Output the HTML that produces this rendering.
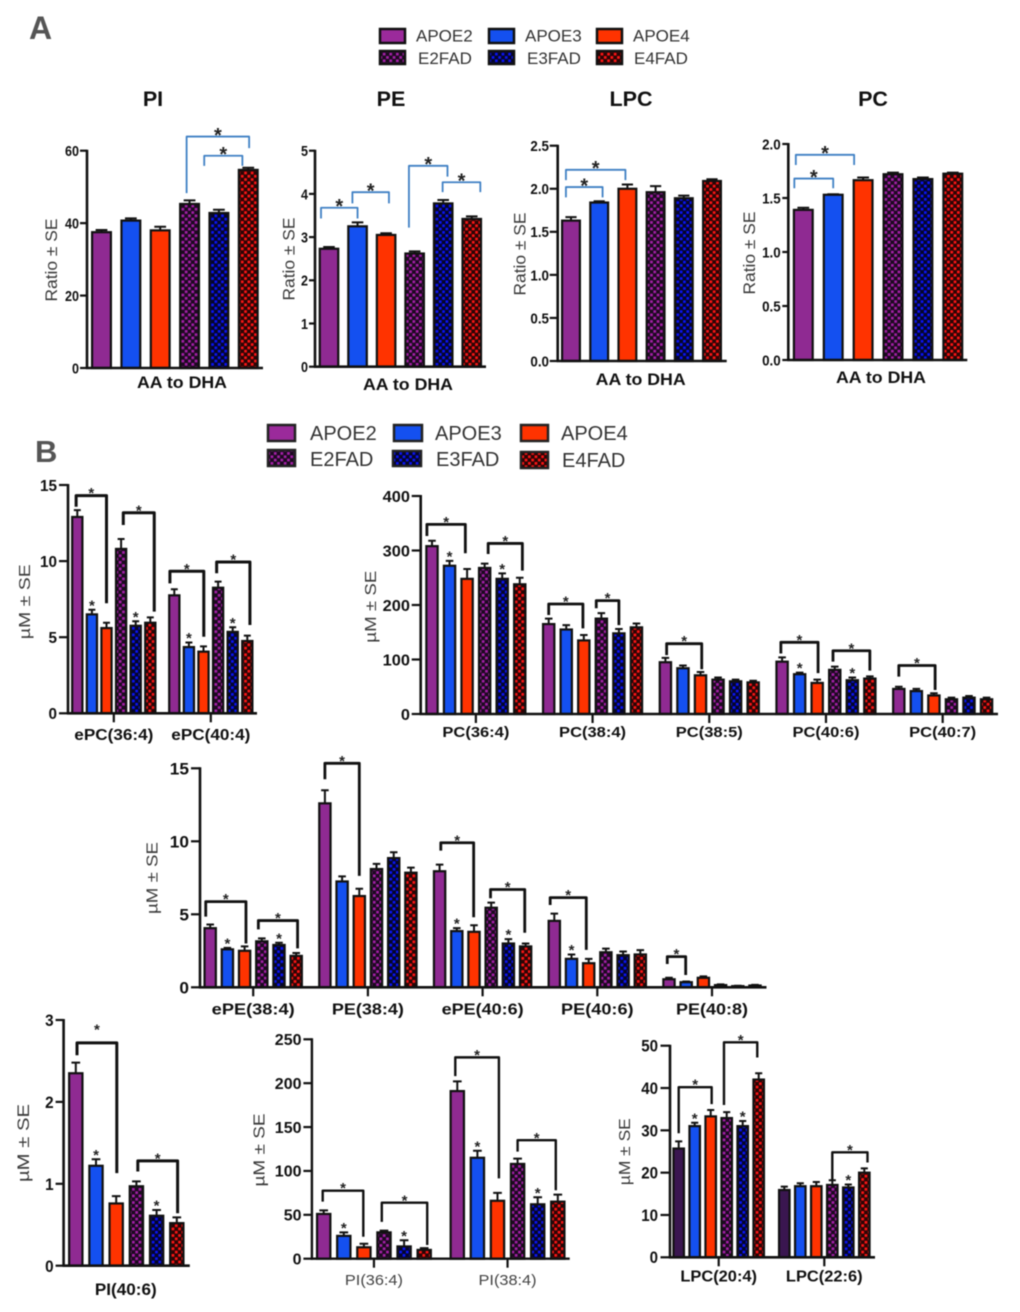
<!DOCTYPE html>
<html lang="en">
<head>
<meta charset="utf-8">
<title>AA to DHA ratios and lipid species by APOE genotype</title>
<style>
html,body{margin:0;padding:0;background:#fff;width:1020px;height:1312px;overflow:hidden}
svg{display:block;filter:blur(.45px)}
text{font-family:"Liberation Sans",sans-serif}
</style>
</head>
<body>
<svg id="figure" xmlns="http://www.w3.org/2000/svg" width="1020" height="1312" viewBox="0 0 1020 1312">
<defs>
<pattern id="chk-e2" patternUnits="userSpaceOnUse" width="6.6" height="6.6"><rect width="6.6" height="6.6" fill="#1c0a20"/><rect width="2.7" height="2.7" fill="#a51fa8"/><rect x="3.3" y="3.3" width="2.7" height="2.7" fill="#a51fa8"/></pattern>
<pattern id="chk-e3" patternUnits="userSpaceOnUse" width="6.6" height="6.6"><rect width="6.6" height="6.6" fill="#05052a"/><rect width="2.7" height="2.7" fill="#0a14f5"/><rect x="3.3" y="3.3" width="2.7" height="2.7" fill="#0a14f5"/></pattern>
<pattern id="chk-e4" patternUnits="userSpaceOnUse" width="6.6" height="6.6"><rect width="6.6" height="6.6" fill="#2a0505"/><rect width="2.7" height="2.7" fill="#ff1515"/><rect x="3.3" y="3.3" width="2.7" height="2.7" fill="#ff1515"/></pattern>
</defs>
<rect width="1020" height="1312" fill="#fff"/>

<text x="29" y="39" font-size="32" font-weight="700" fill="#555">A</text>
<text x="35" y="462" font-size="31" font-weight="700" fill="#555">B</text>

<g font-size="17" fill="#333">
<rect x="380" y="29" width="25" height="14" fill="#9b2a9b" stroke="#111" stroke-width="2.5"/>
<text x="416" y="41.5">APOE2</text>
<rect x="489" y="29" width="25" height="14" fill="#1450f0" stroke="#111" stroke-width="2.5"/>
<text x="525" y="41.5">APOE3</text>
<rect x="597" y="29" width="25" height="14" fill="#ff3300" stroke="#111" stroke-width="2.5"/>
<text x="633" y="41.5">APOE4</text>
<rect x="380" y="51" width="25" height="13" fill="url(#chk-e2)" stroke="#111" stroke-width="2.5"/>
<text x="418" y="64">E2FAD</text>
<rect x="489" y="51" width="25" height="13" fill="url(#chk-e3)" stroke="#111" stroke-width="2.5"/>
<text x="527" y="64">E3FAD</text>
<rect x="597" y="51" width="25" height="13" fill="url(#chk-e4)" stroke="#111" stroke-width="2.5"/>
<text x="634" y="64">E4FAD</text>
</g>

<g font-size="20" fill="#333">
<rect x="268" y="425" width="27" height="16" fill="#9b2a9b" stroke="#222" stroke-width="2.5"/>
<text x="310" y="440">APOE2</text>
<rect x="394" y="425" width="28" height="16" fill="#1450f0" stroke="#222" stroke-width="2.5"/>
<text x="435" y="440">APOE3</text>
<rect x="521" y="425" width="27" height="16" fill="#ff3300" stroke="#222" stroke-width="2.5"/>
<text x="561" y="440">APOE4</text>
<rect x="268" y="450" width="27" height="16" fill="url(#chk-e2)" stroke="#222" stroke-width="2.5"/>
<text x="310" y="466">E2FAD</text>
<rect x="393" y="451" width="28" height="15" fill="url(#chk-e3)" stroke="#222" stroke-width="2.5"/>
<text x="436" y="466">E3FAD</text>
<rect x="521" y="452" width="27" height="16" fill="url(#chk-e4)" stroke="#222" stroke-width="2.5"/>
<text x="562" y="467">E4FAD</text>
</g>

<g font-size="21.5" font-weight="700" fill="#111" text-anchor="middle">
<text x="153" y="106">PI</text>
<text x="391" y="106">PE</text>
<text x="631" y="106">LPC</text>
<text x="873" y="106">PC</text>
</g>
<g id="charts"></g>
</svg>

<script>
// ---- Panel A: AA to DHA ratios (one category, six genotypes) ----
const aaCategories = ['AA to DHA'];
const piRatioValues = [[37.5, 40.7, 38, 45.3, 42.8, 54.7]];
const piRatioErrors = [[0.6, 0.6, 1, 1, 0.9, 0.6]];
const piRatioTicks = [0, 20, 40, 60];
const piRatioBrackets = [[2.9, 5.03, 63.9, 48.3, 60.7], [3.5, 4.8, 58.6, 55.8, 55.8]];
const peRatioValues = [[2.73, 3.25, 3.05, 2.62, 3.78, 3.42]];
const peRatioErrors = [[0.04, 0.09, 0.04, 0.05, 0.08, 0.06]];
const peRatioTicks = [0, 1, 2, 3, 4, 5];
const peRatioBrackets = [[-0.28, 1, 3.68, 3.43, 3.43], [0.82, 2.1, 4.04, 3.78, 3.78], [2.8, 4.15, 4.65, 3.22, 4.4], [3.98, 5.3, 4.27, 4.04, 4.04]];
const lpcRatioValues = [[1.63, 1.84, 2.0, 1.96, 1.89, 2.09]];
const lpcRatioErrors = [[0.04, 0.015, 0.05, 0.07, 0.03, 0.02]];
const lpcRatioTicks = ['0.0', '0.5', '1.0', '1.5', '2.0', '2.5'];
const lpcRatioBrackets = [[-0.18, 1.12, 2.02, 1.90, 1.90], [-0.18, 1.93, 2.22, 2.10, 2.10]];
const pcRatioValues = [[1.39, 1.53, 1.665, 1.72, 1.675, 1.725]];
const pcRatioErrors = [[0.02, 0.005, 0.025, 0.015, 0.015, 0.01]];
const pcRatioTicks = ['0.0', '0.5', '1.0', '1.5', '2.0'];
const pcRatioBrackets = [[-0.3, 1, 1.68, 1.59, 1.59], [-0.25, 1.7, 1.90, 1.805, 1.805]];

// ---- Panel B: lipid species concentrations ----
const ePcCategories = ['ePC(36:4)', 'ePC(40:4)'];
const ePcValues = [[12.9, 6.5, 5.6, 10.8, 5.75, 5.95], [7.75, 4.35, 4.05, 8.25, 5.35, 4.75]];
const ePcErrors = [[0.45, 0.3, 0.35, 0.65, 0.3, 0.35], [0.4, 0.3, 0.35, 0.4, 0.3, 0.35]];
const ePcTicks = [0, 5, 10, 15];
const ePcBrackets = [[-0.08, 2, 14.3, 13.57, 7.23], [3.15, 5.27, 13.18, 12.37, 6.68], [5.7, 8.02, 9.33, 8.54, 5.03], [8.9, 11.18, 9.94, 9.2, 5.8]];
const ePcStars = [1, 4, 7, 10];

const pcCategories = ['PC(36:4)', 'PC(38:4)', 'PC(38:5)', 'PC(40:6)', 'PC(40:7)'];
const pcValues = [[308, 272, 248, 268, 248, 238], [165, 155, 135, 175, 148, 159], [95, 84, 71, 63, 60, 58], [96, 73, 57, 81, 62, 65], [46, 42, 34, 27, 30, 27]];
const pcErrors = [[10, 9, 18, 8, 10, 12], [10, 8, 10, 10, 8, 7], [8, 5, 6, 4, 3, 3], [8, 3, 6, 6, 5, 4], [4, 4, 4, 3, 3, 3]];
const pcTicks = [0, 100, 200, 300, 400];
const pcBrackets = [[-0.29, 1.9, 348, 326.6, 295], [3.2, 5.15, 313, 293.6, 263], [6, 7.95, 201.8, 181.6, 157], [8.71, 10, 208, 194, 163], [12.07, 14.07, 129, 108, 82], [17.93, 20.05, 131.5, 111, 75], [20.9, 23, 116, 96, 79.5], [24, 26.07, 89, 68.5, 44]];
const pcStars = [1, 4, 19, 22];

const pePlasmaCategories = ['ePE(38:4)', 'PE(38:4)', 'ePE(40:6)', 'PE(40:6)', 'PE(40:8)'];
const pePlasmaValues = [[4.05, 2.6, 2.5, 3.15, 2.9, 2.15], [12.6, 7.25, 6.25, 8.1, 8.85, 7.85], [7.95, 3.85, 3.8, 5.45, 3.0, 2.8], [4.55, 1.95, 1.65, 2.4, 2.2, 2.25], [0.55, 0.35, 0.65, 0.15, 0.08, 0.12]];
const pePlasmaErrors = [[0.25, 0.1, 0.3, 0.2, 0.15, 0.2], [0.9, 0.35, 0.5, 0.35, 0.4, 0.35], [0.45, 0.2, 0.45, 0.35, 0.3, 0.2], [0.5, 0.3, 0.3, 0.25, 0.25, 0.3], [0.1, 0.05, 0.1, 0.05, 0.03, 0.05]];
const pePlasmaTicks = [0, 5, 10, 15];
const pePlasmaBrackets = [[-0.26, 2.08, 5.87, 4.84, 3.0], [2.8, 5.08, 4.57, 3.97, 2.67], [6, 8, 15.34, 14.25, 7.63], [12.07, 13.98, 9.9, 9.36, 4.8], [14.96, 16.95, 6.7, 6.1, 3.74], [17.76, 19.86, 6.14, 5.64, 2.56], [23.9, 24.97, 2.1, 1.6, 0.84]];
const pePlasmaStars = [1, 4, 13, 16, 19];

const pi406Categories = ['PI(40:6)'];
const pi406Values = [[2.35, 1.22, 0.76, 0.97, 0.61, 0.52]];
const pi406Errors = [[0.13, 0.08, 0.09, 0.06, 0.07, 0.07]];
const pi406Ticks = [0, 1, 2, 3];
const pi406Brackets = [[0.06, 2.03, 2.72, 2.57, 1.13, 17], [3.07, 5.04, 1.28, 1.15, 0.64]];
const pi406Stars = [1, 4];

const piSpeciesCategories = ['PI(36:4)', 'PI(38:4)'];
const piSpeciesValues = [[51, 26, 13, 30, 14, 10], [191, 115, 66, 108, 62, 65]];
const piSpeciesErrors = [[4, 4, 4, 2, 7, 2], [11, 8, 9, 6, 8, 8]];
const piSpeciesTicks = [0, 50, 100, 150, 200, 250];
const piSpeciesBrackets = [[-0.05, 1.97, 77.5, 65, 25], [2.89, 5.15, 63.8, 42, 15.6], [5.9, 8.07, 229.4, 208, 91.5], [9, 10.9, 135, 122, 78]];
const piSpeciesStars = [1, 4, 7, 10];

const lpcCategories = ['LPC(20:4)', 'LPC(22:6)'];
const lpcValues = [[25.7, 31, 33.3, 32.9, 31, 42], [15.9, 16.8, 16.8, 17.1, 16.5, 20]];
const lpcErrors = [[1.7, 0.8, 1.5, 1.4, 1.2, 1.5], [0.8, 0.7, 1, 1.1, 0.7, 1]];
const lpcTicks = [0, 10, 20, 30, 40, 50];
const lpcBrackets = [[0, 2.06, 40.2, 29.3, 36.2], [2.83, 4.91, 50.8, 36, 47.2], [9, 11.2, 24.8, 18.3, 22.4]];
const lpcStars = [1, 4, 10];

const seriesNames = ['apoe2', 'apoe3', 'apoe4', 'e2fad', 'e3fad', 'e4fad'];
const seriesFills = ['#8f2a92', '#1450f0', '#ff3300', 'url(#chk-e2)', 'url(#chk-e3)', 'url(#chk-e4)'];

const BLUE = '#3f80c4';
const charts = [
 {id:'pi-ratio', cats:aaCategories, vals:piRatioValues, errs:piRatioErrors, ticks:piRatioTicks, yMax:60, brackets:piRatioBrackets, stars:[],
  x0:87, y0:368, yTop:150.7, first:101.5, pitch:29.35, gap:0, barW:21, xEnd:263, tickOut:7, tickRight:79, tickFont:15, tickCw:7,
  yTitle:'Ratio ± SE', yTitleX:57, yTitleY:260, yTitleW:83, yTitleFont:16.5, labelCx:[182], labelY:388, labelW:[90], labelFont:17, brColor:BLUE, brW:1.8, starFont:20, axisW:2.6},
 {id:'pe-ratio', cats:aaCategories, vals:peRatioValues, errs:peRatioErrors, ticks:peRatioTicks, yMax:5, brackets:peRatioBrackets, stars:[],
  x0:315, y0:366.7, yTop:150.7, first:329, pitch:28.55, gap:0, barW:20.7, xEnd:486, tickOut:6, tickRight:308, tickFont:15, tickCw:7,
  yTitle:'Ratio ± SE', yTitleX:294.7, yTitleY:259, yTitleW:83, yTitleFont:16.5, labelCx:[408], labelY:390, labelW:[90], labelFont:17, brColor:BLUE, brW:1.8, starFont:20, axisW:2.6},
 {id:'lpc-ratio', cats:aaCategories, vals:lpcRatioValues, errs:lpcRatioErrors, ticks:lpcRatioTicks, yMax:2.5, brackets:lpcRatioBrackets, stars:[],
  x0:557.7, y0:361, yTop:145.7, first:571, pitch:28.2, gap:0, barW:20, xEnd:726.7, tickOut:8, tickRight:549, tickFont:15, tickCw:6.2,
  yTitle:'Ratio ± SE', yTitleX:525.7, yTitleY:254, yTitleW:83, yTitleFont:16.5, labelCx:[640.7], labelY:385, labelW:[90], labelFont:17, brColor:BLUE, brW:1.8, starFont:20, axisW:2.6},
 {id:'pc-ratio', cats:aaCategories, vals:pcRatioValues, errs:pcRatioErrors, ticks:pcRatioTicks, yMax:2, brackets:pcRatioBrackets, stars:[],
  x0:788.3, y0:360, yTop:144, first:803.3, pitch:29.9, gap:0, barW:21, xEnd:967.3, tickOut:6, tickRight:780.7, tickFont:15, tickCw:6.2,
  yTitle:'Ratio ± SE', yTitleX:755, yTitleY:253, yTitleW:83, yTitleFont:16.5, labelCx:[881], labelY:383, labelW:[90], labelFont:17, brColor:BLUE, brW:1.8, starFont:20, axisW:2.6},
 {id:'epc', cats:ePcCategories, vals:ePcValues, errs:ePcErrors, ticks:ePcTicks, yMax:15, brackets:ePcBrackets, stars:ePcStars,
  x0:68, y0:713.3, yTop:485, first:77.3, pitch:14.6, gap:9.4, barW:12.4, xEnd:257, tickOut:9, tickRight:57, tickFont:16, tickCw:8.5, groupTicks:true,
  yTitle:'µM  ± SE', yTitleX:30, yTitleY:601.7, yTitleW:75, yTitleFont:16, labelY:740, labelW:[79, 79], labelFont:15.5, brColor:'#111', brW:3, starFont:15, axisW:2.6},
 {id:'pc-species', cats:pcCategories, vals:pcValues, errs:pcErrors, ticks:pcTicks, yMax:400, brackets:pcBrackets, stars:pcStars,
  x0:420.7, y0:714, yTop:496, first:432, pitch:17.55, gap:11.4, barW:13.5, xEnd:998, tickOut:9, tickRight:410, tickFont:16, tickCw:9.1, groupTicks:true,
  yTitle:'µM  ± SE', yTitleX:376, yTitleY:606.7, yTitleW:72, yTitleFont:16, labelY:737, labelW:[67, 67, 67, 67, 67], labelFont:15, brColor:'#111', brW:2.8, starFont:15, axisW:2.6},
 {id:'pe-species', cats:pePlasmaCategories, vals:pePlasmaValues, errs:pePlasmaErrors, ticks:pePlasmaTicks, yMax:15, brackets:pePlasmaBrackets, stars:pePlasmaStars,
  x0:200, y0:987.3, yTop:768.3, first:210.2, pitch:17.2, gap:11.5, barW:13.5, xEnd:766.5, tickOut:9, tickRight:189, tickFont:17, tickCw:9.6, groupTicks:true,
  yTitle:'µM  ± SE', yTitleX:157.5, yTitleY:878, yTitleW:72, yTitleFont:16, labelY:1014.3, labelW:[83, 72, 82, 72.6, 72], labelFont:16, brColor:'#111', brW:2.8, starFont:15, axisW:2.6},
 {id:'pi-40-6', cats:pi406Categories, vals:pi406Values, errs:pi406Errors, ticks:pi406Ticks, yMax:3, brackets:pi406Brackets, stars:pi406Stars,
  x0:63.6, y0:1265.7, yTop:1020, first:75.8, pitch:20.2, gap:0, barW:15.5, xEnd:189.8, tickOut:8, tickRight:53.6, tickFont:17, tickCw:8.5,
  yTitle:'µM  ± SE', yTitleX:29, yTitleY:1143, yTitleW:78, yTitleFont:17, labelCx:[125.8], labelY:1295, labelW:[61.8], labelFont:17, brColor:'#111', brW:3, starFont:15, axisW:2.6},
 {id:'pi-species', cats:piSpeciesCategories, vals:piSpeciesValues, errs:piSpeciesErrors, ticks:piSpeciesTicks, yMax:250, brackets:piSpeciesBrackets, stars:piSpeciesStars,
  x0:311.9, y0:1258.7, yTop:1039.3, first:323.7, pitch:20.1, gap:13, barW:15.5, xEnd:569.7, tickOut:8.5, tickRight:301.5, tickFont:16, tickCw:8.9, groupTicks:true,
  yTitle:'µM  ± SE', yTitleX:264.5, yTitleY:1150, yTitleW:73, yTitleFont:16, labelY:1285, labelW:[58, 58], labelFont:15, labelWeight:400, labelFill:'#444', brColor:'#111', brW:2.4, starFont:15, axisW:2.4},
 {id:'lpc-species', cats:lpcCategories, vals:lpcValues, errs:lpcErrors, ticks:lpcTicks, yMax:50, brackets:lpcBrackets, stars:lpcStars, firstFill:'#3a1650',
  x0:670, y0:1257.3, yTop:1045.7, first:678.7, pitch:16, gap:9.6, barW:12.7, xEnd:875, tickOut:9.5, tickRight:658, tickFont:16.5, tickCw:8.4, groupTicks:true,
  yTitle:'µM  ± SE', yTitleX:630, yTitleY:1151.7, yTitleW:67, yTitleFont:15.5, labelY:1281.7, labelW:[76.7, 76.7], labelFont:15.5, brColor:'#111', brW:2.4, starFont:15, axisW:2.6}
];

const SVG_NS = 'http://www.w3.org/2000/svg';
function svgEl(tag, attrs, parent) {
  const el = document.createElementNS(SVG_NS, tag);
  for (const k in attrs) el.setAttribute(k, attrs[k]);
  parent.appendChild(el);
  return el;
}

function drawChart(c) {
  const root = document.getElementById('charts');
  const g = svgEl('g', {}, root);
  
  

  const yScale = v => c.y0 - (v / c.yMax) * (c.y0 - c.yTop);
  const xBar = i => c.first + i * c.pitch + Math.floor(Math.round(i) / 6) * c.gap;
  const flatV = c.vals.flat();
  const flatE = c.errs.flat();

  // bars and error bars
  flatV.forEach((v, i) => {
    const s = i % 6;
    const cx = xBar(i);
    const top = yScale(v);
    const errTop = yScale(v + flatE[i]);
    const err = svgEl('path', {d: `M${cx} ${top}V${errTop}M${cx - c.barW * 0.28} ${errTop}H${cx + c.barW * 0.28}`, fill: 'none', stroke: '#111', 'stroke-width': 2}, g);
    
    
    const fill = (c.firstFill && s === 0) ? c.firstFill : seriesFills[s];
    const bar = svgEl('rect', {x: cx - c.barW / 2 + 1.1, y: top, width: c.barW - 2.2, height: Math.max(0, c.y0 - top), fill: fill, stroke: '#111', 'stroke-width': 2.2}, g);
    
    
  });

  // axes
  const yAxis = svgEl('line', {x1: c.x0, x2: c.x0, y1: c.yTop - 1, y2: c.y0 + 1, stroke: '#111', 'stroke-width': c.axisW}, g);
  
  
  const xAxis = svgEl('line', {x1: c.x0 - 1, x2: c.xEnd, y1: c.y0, y2: c.y0, stroke: '#111', 'stroke-width': c.axisW}, g);
  
  

  c.ticks.forEach(t => {
    const y = yScale(parseFloat(t));
    const tick = svgEl('line', {x1: c.x0 - c.tickOut, x2: c.x0, y1: y, y2: y, stroke: '#111', 'stroke-width': 2.2}, g);
    
    
    const label = String(t);
    const txt = svgEl('text', {x: c.tickRight, y: y + c.tickFont * 0.36, 'text-anchor': 'end', 'font-size': c.tickFont, 'font-weight': 700, fill: '#111', textLength: label.length * c.tickCw, lengthAdjust: 'spacingAndGlyphs'}, g);
    txt.textContent = label;
    
    
  });

  // y-axis title
  const yt = svgEl('text', {transform: `translate(${c.yTitleX} ${c.yTitleY}) rotate(-90)`, 'text-anchor': 'middle', 'font-size': c.yTitleFont, fill: '#3a3a3a', textLength: c.yTitleW, lengthAdjust: 'spacingAndGlyphs'}, g);
  yt.textContent = c.yTitle;
  
  

  // category labels and group ticks
  c.cats.forEach((cat, gi) => {
    const cx = c.labelCx ? c.labelCx[gi] : (xBar(gi * 6) + xBar(gi * 6 + 5)) / 2;
    if (c.groupTicks) {
      const gt = svgEl('line', {x1: cx, x2: cx, y1: c.y0, y2: c.y0 + 9, stroke: '#111', 'stroke-width': 2.2}, g);
      
      
    }
    const lb = svgEl('text', {x: cx, y: c.labelY, 'text-anchor': 'middle', 'font-size': c.labelFont, 'font-weight': c.labelWeight || 700, fill: c.labelFill || '#111', textLength: c.labelW[gi], lengthAdjust: 'spacingAndGlyphs'}, g);
    lb.textContent = cat;
    
    
  });

  // significance brackets: [fromBar, toBar, topValue, leftEndValue, rightEndValue, optional star gap]
  const starBaseline = yc => yc + 0.57 * c.starFont;
  c.brackets.forEach(b => {
    const x1 = xBar(b[0]);
    const x2 = xBar(b[1]);
    const yT = yScale(b[2]);
    const br = svgEl('path', {d: `M${x1} ${yScale(b[3])}V${yT}H${x2}V${yScale(b[4])}`, fill: 'none', stroke: c.brColor, 'stroke-width': c.brW, 'stroke-linejoin': 'round'}, g);
    
    
    const st = svgEl('text', {x: (x1 + x2) / 2, y: starBaseline(yT - (b[5] || 6)), 'text-anchor': 'middle', 'font-size': c.starFont, 'font-weight': 700, fill: '#222'}, g);
    st.textContent = '*';
    
    
  });

  // stars above individual bars
  c.stars.forEach(i => {
    const st = svgEl('text', {x: xBar(i), y: starBaseline(yScale(flatV[i] + flatE[i]) - 8), 'text-anchor': 'middle', 'font-size': c.starFont, 'font-weight': 700, fill: '#222'}, g);
    st.textContent = '*';
    
    
  });
}

charts.forEach(drawChart);
</script>
</body>
</html>
